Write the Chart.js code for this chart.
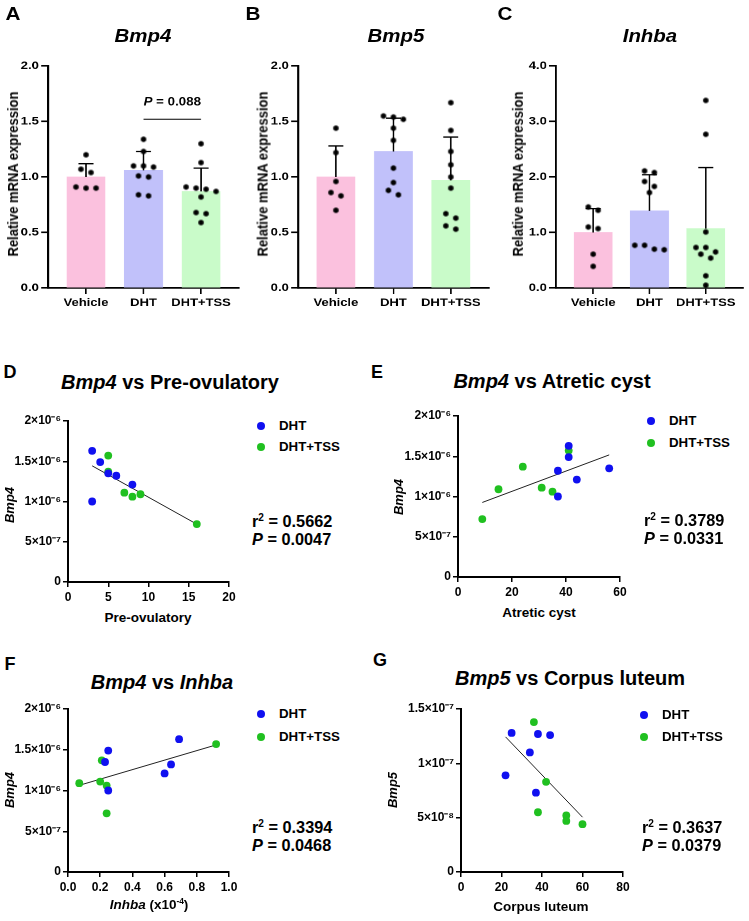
<!DOCTYPE html>
<html>
<head>
<meta charset="utf-8">
<script src="https://cdn.jsdelivr.net/npm/chart.js@4.4.1/dist/chart.umd.min.js"></script>
<style>
  body { margin: 0; background: #fff; }
  #page { position: relative; width: 749px; height: 921px; overflow: hidden; font-family: 'Liberation Sans', Arial, sans-serif; font-weight: bold; color: #000; }
  #top { position: absolute; left: 0; top: 0; width: 651px; height: 330px; transform: scaleX(1.15); transform-origin: 0 0; }
  .box { position: absolute; }
  .t { position: absolute; white-space: nowrap; line-height: 1; transform: translate(-50%, -50%); }
  .l { transform: translateY(-50%); }
  .r { transform: translate(-50%, -50%) rotate(-90deg); }
  sup { font-size: 0.62em; vertical-align: 0.6em; line-height: 0; }
  .dot { position: absolute; width: 8px; height: 8px; border-radius: 50%; transform: translate(-50%, -50%); }
</style>
</head>
<body>
<div id="page"><div id="top"></div></div>
<script>
// ---- bar charts: relative mRNA expression ----
const groups = ["Vehicle", "DHT", "DHT+TSS"]
const relTicks = [0, 0.5, 1, 1.5, 2]
const relTickLabels = ["0.0", "0.5", "1.0", "1.5", "2.0"]
const inhbaRelTicks = [0, 1, 2, 3, 4]
const inhbaRelTickLabels = ["0.0", "1.0", "2.0", "3.0", "4.0"]

const bmp4Mean = [1.00, 1.06, 0.87]
const bmp4Sd = [0.12, 0.17, 0.21]
const bmp4Vehicle = [1.20, 1.07, 1.04, 0.90, 0.91, 0.90]
const bmp4Dht = [1.34, 1.23, 1.09, 1.10, 1.10, 1.00, 1.01, 0.83, 0.84]
const bmp4Tss = [1.30, 1.13, 0.90, 0.87, 0.89, 0.91, 0.82, 0.68, 0.67, 0.59]
const bmp4PValue = "0.088"

const bmp5Mean = [1.00, 1.23, 0.97]
const bmp5Sd = [0.28, 0.30, 0.39]
const bmp5Vehicle = [1.44, 1.22, 0.96, 0.86, 0.83, 0.70]
const bmp5Dht = [1.54, 1.55, 1.52, 1.44, 1.33, 1.08, 0.95, 0.84, 0.88]
const bmp5Tss = [1.67, 1.42, 1.23, 1.11, 1.00, 0.90, 0.67, 0.63, 0.56, 0.53]

const inhbaMean = [1.00, 1.39, 1.07]
const inhbaSd = [0.43, 0.65, 1.10]
const inhbaVehicle = [1.46, 1.40, 1.07, 1.10, 0.61, 0.39]
const inhbaDht = [2.08, 2.11, 1.92, 1.83, 1.72, 0.77, 0.77, 0.69, 0.70]
const inhbaTss = [3.38, 2.77, 1.01, 0.73, 0.73, 0.65, 0.61, 0.54, 0.22, 0.05]

// ---- correlations (DHT and DHT+TSS animals, same order in every list) ----
const dhtBmp4 = [1.63e-6, 1.49e-6, 1.35e-6, 1.32e-6, 1.21e-6, 1.00e-6]
const tssBmp4 = [1.57e-6, 1.37e-6, 1.11e-6, 1.09e-6, 1.06e-6, 0.72e-6]
const dhtPreOv = [3, 4, 5, 6, 8, 3]
const tssPreOv = [5, 5, 7, 9, 8, 16]
const dhtAtretic = [41, 41, 56, 37, 44, 37]
const tssAtretic = [41, 24, 31, 15, 35, 9]
const dhtInhba = [0.69, 0.25, 0.23, 0.64, 0.60, 0.25]
const tssInhba = [0.92, 0.21, 0.20, 0.07, 0.24, 0.24]
const dhtCL = [25, 38, 44, 34, 22, 37]
const dhtBmp5 = [1.28e-7, 1.27e-7, 1.26e-7, 1.10e-7, 0.89e-7, 0.73e-7]
const tssCL = [36, 42, 38, 52, 52, 60]
const tssBmp5 = [1.38e-7, 0.83e-7, 0.55e-7, 0.52e-7, 0.47e-7, 0.44e-7]

const bmp4CorrTicks = [0, 5e-7, 1e-6, 1.5e-6, 2e-6]
const bmp4CorrLabels = ["0", "5×10⁻⁷", "1×10⁻⁶", "1.5×10⁻⁶", "2×10⁻⁶"]
const bmp5CorrTicks = [0, 5e-8, 1e-7, 1.5e-7]
const bmp5CorrLabels = ["0", "5×10⁻⁸", "1×10⁻⁷", "1.5×10⁻⁷"]
const preOvTicks = [0, 5, 10, 15, 20]
const atreticTicks = [0, 20, 40, 60]
const inhbaXTicks = [0, 0.2, 0.4, 0.6, 0.8, 1.0]
const inhbaXLabels = ["0.0", "0.2", "0.4", "0.6", "0.8", "1.0"]
const clTicks = [0, 20, 40, 60, 80]

const statsD = ["0.5662", "0.0047"]
const statsE = ["0.3789", "0.0331"]
const statsF = ["0.3394", "0.0468"]
const statsG = ["0.3637", "0.0379"]


// the top row of the figure is a little wider than tall, so it is drawn narrow and stretched
const S = 1.15
const FONT = "'Liberation Sans', Arial, sans-serif"
const BLUE = "#1010f0"
const GREEN = "#20c020"
const barColors = ["#fbc1de", "#c1c1fa", "#c9fbc9"]
const TOP_FS = 11.3

Chart.defaults.font.family = FONT
Chart.defaults.font.weight = "bold"
Chart.defaults.color = "#000"

const page = document.getElementById("page")
const topRow = document.getElementById("top")

function txt(parent, html, x, y, size, cls) {
    const d = document.createElement("div")
    d.className = "t " + (cls || "")
    d.innerHTML = html
    d.style.left = x + "px"
    d.style.top = y + "px"
    d.style.fontSize = size + "px"
    parent.appendChild(d)
    return d
}

// round dot squeezed by 1/S so it looks round once the top row is stretched
function squeezedDot(r, color) {
    const c = document.createElement("canvas")
    c.width = Math.ceil(2 * r / S) + 2
    c.height = Math.ceil(2 * r) + 2
    const g = c.getContext("2d")
    g.fillStyle = color
    g.beginPath()
    g.ellipse(c.width / 2, c.height / 2, r / S, r, 0, 0, Math.PI * 2)
    g.fill()
    return c
}

// Prism-like column scatter: close values share a row, spread around the centre
function swarm(vals, center, tol, step) {
    const idx = vals.map((v, i) => i).sort((a, b) => vals[b] - vals[a])
    const out = []
    let row = []
    const flush = () => {
        row.forEach((k, j) => out.push({x: center + (j - (row.length - 1) / 2) * step, y: vals[k]}))
        row = []
    }
    idx.forEach(k => {
        if (row.length && vals[row[0]] - vals[k] > tol) flush()
        row.push(k)
    })
    flush()
    return out
}

function fitLine(xs, ys) {
    const n = xs.length
    const mx = xs.reduce((a, b) => a + b) / n
    const my = ys.reduce((a, b) => a + b) / n
    let sxy = 0, sxx = 0
    xs.forEach((x, i) => { sxy += (x - mx) * (ys[i] - my); sxx += (x - mx) * (x - mx) })
    const b = sxy / sxx
    const lo = Math.min(...xs), hi = Math.max(...xs)
    return [{x: lo, y: my + b * (lo - mx)}, {x: hi, y: my + b * (hi - mx)}]
}

const X_MIN = -0.66, X_MAX = 2.66
const blackDot = squeezedDot(2.7, "#000")

function barPanel(p) {
    const box = document.createElement("div")
    box.className = "box"
    Object.assign(box.style, {left: p.left + "px", top: "50px", width: p.width + "px", height: "270px"})
    const cv = document.createElement("canvas")
    box.appendChild(cv)
    topRow.appendChild(box)

    const plotW = p.width - p.yWidth - p.padRight
    const step = (10 / S) * (X_MAX - X_MIN) / plotW
    const yMax = p.ticks[p.ticks.length - 1]
    const tol = 5 * yMax / 222
    const pts = [].concat(...p.values.map((v, i) => swarm(v, i, tol, step)))

    const errorBars = {
        id: "errorBars",
        afterDatasetDraw(chart, args) {
            if (args.meta.type !== "bar") return
            const {ctx, scales: {x, y}} = chart
            const cap = 7.5 / S
            ctx.save()
            ctx.strokeStyle = "#000"
            ctx.lineWidth = 1.3
            p.mean.forEach((m, i) => {
                const cx = x.getPixelForValue(i)
                const y0 = y.getPixelForValue(m)
                const y1 = y.getPixelForValue(m + p.sd[i])
                ctx.beginPath()
                ctx.moveTo(cx, y0); ctx.lineTo(cx, y1)
                ctx.moveTo(cx - cap, y1); ctx.lineTo(cx + cap, y1)
                ctx.stroke()
            })
            if (p.pValue) {
                const ly = y.getPixelForValue(1.52)
                ctx.lineWidth = 1
                ctx.beginPath()
                ctx.moveTo(x.getPixelForValue(1), ly)
                ctx.lineTo(x.getPixelForValue(2), ly)
                ctx.stroke()
                const rest = " = " + p.pValue
                const fs = 11.6
                ctx.font = "italic bold " + fs + "px " + FONT
                const w1 = ctx.measureText("P").width
                ctx.font = "bold " + fs + "px " + FONT
                const w2 = ctx.measureText(rest).width
                const sx = x.getPixelForValue(1.5) - (w1 + w2) / 2
                ctx.fillStyle = "#000"
                ctx.textBaseline = "middle"
                ctx.font = "italic bold " + fs + "px " + FONT
                ctx.fillText("P", sx, ly - 17)
                ctx.font = "bold " + fs + "px " + FONT
                ctx.fillText(rest, sx + w1, ly - 17)
            }
            ctx.restore()
        }
    }

    new Chart(cv, {
        type: "bar",
        data: {
            datasets: [
                {type: "scatter", data: pts, pointStyle: blackDot, pointRadius: 2.7, order: 0},
                {type: "bar", data: p.mean.map((m, i) => ({x: i, y: m})), backgroundColor: barColors,
                    borderWidth: 0, barThickness: 38 / S, order: 1}
            ]
        },
        options: {
            responsive: true, maintainAspectRatio: false, animation: false, devicePixelRatio: 2,
            layout: {padding: {left: 0, top: 16, right: p.padRight, bottom: 0}},
            plugins: {legend: {display: false}, tooltip: {enabled: false}},
            scales: {
                x: {
                    type: "linear", min: X_MIN, max: X_MAX, offset: false,
                    afterBuildTicks: s => { s.ticks = [0, 1, 2].map(v => ({value: v})) },
                    afterFit: s => { s.height = 32 },
                    ticks: {callback: (v, i) => groups[i], padding: 2, font: {size: TOP_FS, weight: "bold"},
                        color: "#000", maxRotation: 0, autoSkip: false},
                    grid: {offset: false, drawOnChartArea: false, tickLength: 6, color: "#000", lineWidth: 1.3},
                    border: {color: "#000", width: 1.7}
                },
                y: {
                    min: 0, max: yMax,
                    afterBuildTicks: s => { s.ticks = p.ticks.map(v => ({value: v})) },
                    afterFit: s => { s.width = p.yWidth },
                    ticks: {callback: (v, i) => p.labels[i], padding: 2, font: {size: TOP_FS, weight: "bold"},
                        color: "#000", autoSkip: false},
                    grid: {drawOnChartArea: false, tickLength: 6, color: "#000", lineWidth: 1.6},
                    border: {color: "#000", width: 1.7}
                }
            }
        },
        plugins: [errorBars]
    })
}

barPanel({left: 0, width: 213, yWidth: 41.74, padRight: 5.17, mean: bmp4Mean, sd: bmp4Sd,
    values: [bmp4Vehicle, bmp4Dht, bmp4Tss], ticks: relTicks, labels: relTickLabels, pValue: bmp4PValue})
barPanel({left: 213, width: 217, yWidth: 46.13, padRight: 4.78, mean: bmp5Mean, sd: bmp5Sd,
    values: [bmp5Vehicle, bmp5Dht, bmp5Tss], ticks: relTicks, labels: relTickLabels})
barPanel({left: 430, width: 221, yWidth: 53.48, padRight: 1.43, mean: inhbaMean, sd: inhbaSd,
    values: [inhbaVehicle, inhbaDht, inhbaTss], ticks: inhbaRelTicks, labels: inhbaRelTickLabels})

txt(topRow, "A", 11.3, 13.5, 18)
txt(topRow, "B", 220, 13.5, 18)
txt(topRow, "C", 439, 13.5, 18)
txt(topRow, "<i>Bmp4</i>", 124.3, 37, 17.8)
txt(topRow, "<i>Bmp5</i>", 344.3, 37, 17.8)
txt(topRow, "<i>Inhba</i>", 565.2, 37, 17.8)
txt(topRow, "Relative mRNA expression", 10.9, 174, 13, "r")
txt(topRow, "Relative mRNA expression", 227.8, 174, 13, "r")
txt(topRow, "Relative mRNA expression", 450.4, 174, 13, "r")


function scatterPanel(p) {
    const b = p.box, a = p.area
    const box = document.createElement("div")
    box.className = "box"
    Object.assign(box.style, {left: b.left + "px", top: b.top + "px", width: b.width + "px", height: b.height + "px"})
    const cv = document.createElement("canvas")
    box.appendChild(cv)
    page.appendChild(box)

    const zip = (xs, ys) => xs.map((x, i) => ({x: x, y: ys[i]}))
    const line = fitLine(p.dhtX.concat(p.tssX), p.dhtY.concat(p.tssY))

    new Chart(cv, {
        type: "scatter",
        data: {
            datasets: [
                {label: "DHT", data: zip(p.dhtX, p.dhtY), backgroundColor: BLUE, borderWidth: 0, pointRadius: 3.9, order: 0},
                {label: "DHT+TSS", data: zip(p.tssX, p.tssY), backgroundColor: GREEN, borderWidth: 0, pointRadius: 3.9, order: 1},
                {type: "line", data: line, borderColor: "#222", borderWidth: 1, pointRadius: 0, order: 2}
            ]
        },
        options: {
            responsive: true, maintainAspectRatio: false, animation: false,
            layout: {padding: {left: 0, top: a.top - b.top, right: b.left + b.width - a.right, bottom: 0}},
            plugins: {legend: {display: false}, tooltip: {enabled: false}},
            scales: {
                x: {
                    type: "linear", min: 0, max: p.xTicks[p.xTicks.length - 1],
                    afterBuildTicks: s => { s.ticks = p.xTicks.map(v => ({value: v})) },
                    afterFit: s => { s.height = b.top + b.height - a.bottom },
                    ticks: {callback: (v, i) => p.xLabels[i], padding: 3, font: {size: 12, weight: "bold"},
                        color: "#000", maxRotation: 0, autoSkip: false},
                    grid: {drawOnChartArea: false, tickLength: 5, color: "#000", lineWidth: 1.5},
                    border: {color: "#000", width: 2}
                },
                y: {
                    min: 0, max: p.yTicks[p.yTicks.length - 1],
                    afterBuildTicks: s => { s.ticks = p.yTicks.map(v => ({value: v})) },
                    afterFit: s => { s.width = a.left - b.left },
                    ticks: {callback: (v, i) => p.yLabels[i], padding: 2, font: {size: 12, weight: "bold"},
                        color: "#000", autoSkip: false},
                    grid: {drawOnChartArea: false, tickLength: 5, color: "#000", lineWidth: 1.5},
                    border: {color: "#000", width: 2}
                }
            }
        }
    })

    // legend and statistics
    const lg = p.legend
    ;[[BLUE, "DHT", lg.y1], [GREEN, "DHT+TSS", lg.y2]].forEach(([c, name, y]) => {
        const d = document.createElement("div")
        d.className = "dot"
        Object.assign(d.style, {left: lg.x + "px", top: y + "px", background: c})
        page.appendChild(d)
        txt(page, name, lg.x + 18, y, 13.3, "l")
    })
    txt(page, "r<sup>2</sup> = " + p.stats[0], p.statsAt.x, p.statsAt.y, 16.3, "l")
    txt(page, "<i>P</i> = " + p.stats[1], p.statsAt.x, p.statsAt.y + 18, 16.3, "l")
}

scatterPanel({
    box: {left: 0, top: 405, width: 245, height: 205}, area: {left: 68, top: 421, right: 229, bottom: 582},
    dhtX: dhtPreOv, dhtY: dhtBmp4, tssX: tssPreOv, tssY: tssBmp4,
    xTicks: preOvTicks, xLabels: preOvTicks.map(String), yTicks: bmp4CorrTicks, yLabels: bmp4CorrLabels,
    legend: {x: 261, y1: 426, y2: 447}, stats: statsD, statsAt: {x: 252, y: 521}
})
scatterPanel({
    box: {left: 375, top: 400, width: 270, height: 205}, area: {left: 458, top: 416, right: 620, bottom: 577},
    dhtX: dhtAtretic, dhtY: dhtBmp4, tssX: tssAtretic, tssY: tssBmp4,
    xTicks: atreticTicks, xLabels: atreticTicks.map(String), yTicks: bmp4CorrTicks, yLabels: bmp4CorrLabels,
    legend: {x: 651, y1: 421, y2: 443}, stats: statsE, statsAt: {x: 644, y: 520}
})
scatterPanel({
    box: {left: 0, top: 693, width: 245, height: 205}, area: {left: 68, top: 709, right: 229, bottom: 872},
    dhtX: dhtInhba, dhtY: dhtBmp4, tssX: tssInhba, tssY: tssBmp4,
    xTicks: inhbaXTicks, xLabels: inhbaXLabels, yTicks: bmp4CorrTicks, yLabels: bmp4CorrLabels,
    legend: {x: 261, y1: 714, y2: 737}, stats: statsF, statsAt: {x: 252, y: 827}
})
scatterPanel({
    box: {left: 375, top: 693, width: 270, height: 205}, area: {left: 461, top: 709, right: 623, bottom: 872},
    dhtX: dhtCL, dhtY: dhtBmp5, tssX: tssCL, tssY: tssBmp5,
    xTicks: clTicks, xLabels: clTicks.map(String), yTicks: bmp5CorrTicks, yLabels: bmp5CorrLabels,
    legend: {x: 644, y1: 715, y2: 737}, stats: statsG, statsAt: {x: 642, y: 827}
})

txt(page, "D", 10, 371.5, 18)
txt(page, "E", 377, 371.5, 18)
txt(page, "F", 10, 663.5, 18)
txt(page, "G", 380, 660, 18)
txt(page, "<i>Bmp4</i> vs Pre-ovulatory", 170, 382, 20)
txt(page, "<i>Bmp4</i> vs Atretic cyst", 552, 381, 20)
txt(page, "<i>Bmp4</i> vs <i>Inhba</i>", 162, 682, 20)
txt(page, "<i>Bmp5</i> vs Corpus luteum", 570, 678, 20)
txt(page, "Pre-ovulatory", 148, 618, 13.5)
txt(page, "Atretic cyst", 539, 613, 13.5)
txt(page, "<i>Inhba</i> (x10<sup>-4</sup>)", 149, 905, 13.5)
txt(page, "Corpus luteum", 541, 907, 13.5)
txt(page, "<i>Bmp4</i>", 8.5, 505, 13, "r")
txt(page, "<i>Bmp4</i>", 398, 497, 13, "r")
txt(page, "<i>Bmp4</i>", 8.5, 790, 13, "r")
txt(page, "<i>Bmp5</i>", 392, 790, 13, "r")
</script>
</body>
</html>
